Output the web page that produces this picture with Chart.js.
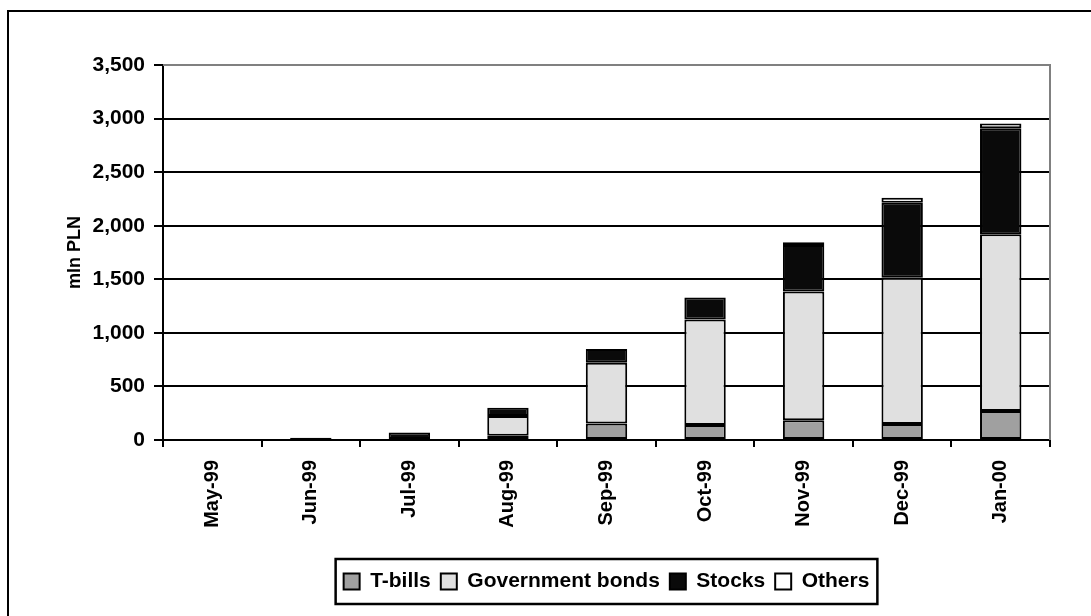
<!DOCTYPE html>
<html>
<head>
<meta charset="utf-8">
<script src="https://cdn.jsdelivr.net/npm/chart.js@4/dist/chart.umd.min.js"></script>
<style>
  html, body { margin: 0; padding: 0; background: #fff; overflow: hidden; }
  #frame { position: absolute; left: 7px; top: 10px; width: 1100px; height: 620px; border: 2px solid #000; box-sizing: border-box; }
  #wrap { position: absolute; left: 0; top: 0; width: 1091px; height: 616px; }
</style>
</head>
<body>
<div id="frame"></div>
<div id="wrap"><canvas id="chart" width="1091" height="616"></canvas></div>
<script>
// ============================
const months = ["May-99", "Jun-99", "Jul-99", "Aug-99", "Sep-99", "Oct-99", "Nov-99", "Dec-99", "Jan-00"];
const tbills = [0, 0, 5, 40, 155, 140, 185, 150, 270];
const bonds = [0, 3, 5, 185, 565, 985, 1200, 1365, 1650];
const stocks = [0, 17, 60, 75, 130, 205, 435, 700, 990];
const others = [0, 0, 0, 0, 0, 0, 25, 45, 45];
const yTicks = [0, 500, 1000, 1500, 2000, 2500, 3000, 3500];

const FONT = "Arial, 'Liberation Sans', sans-serif";

// ============================
// gray plot area frame (top / right), like the Excel plot area
const plotFrame = {
  id: "plotFrame",
  beforeDatasetsDraw(chart) {
    const { ctx, chartArea: a } = chart;
    ctx.save();
    ctx.strokeStyle = "#808080";
    ctx.lineWidth = 2;
    ctx.beginPath();
    ctx.moveTo(a.left, a.top);
    ctx.lineTo(a.right, a.top);
    ctx.lineTo(a.right, a.bottom);
    ctx.stroke();
    ctx.restore();
  }
};

// ============================
// box around the legend items
const legendBox = {
  id: "legendBox",
  afterDraw(chart) {
    const boxes = chart.legend.legendHitBoxes;
    if (!boxes || !boxes.length) return;
    const left = Math.min(...boxes.map(b => b.left)) - 8;
    const right = Math.max(...boxes.map(b => b.left + b.width)) + 8;
    const top = Math.min(...boxes.map(b => b.top)) - 12;
    const bottom = Math.max(...boxes.map(b => b.top + b.height)) + 12;
    const ctx = chart.ctx;
    ctx.save();
    ctx.strokeStyle = "#000";
    ctx.lineWidth = 2.5;
    ctx.strokeRect(left, top, right - left, bottom - top);
    ctx.restore();
  }
};

// ============================
function makeSet(label, values, color) {
  return {
    label: label,
    data: values,
    backgroundColor: color,
    borderColor: "#000",
    borderWidth: 2,
    borderSkipped: false,
    categoryPercentage: 1,
    barPercentage: 0.42
  };
}

new Chart(document.getElementById("chart"), {
  type: "bar",
  data: {
    labels: months,
    datasets: [
      makeSet("T-bills", tbills, "#a0a0a0"),
      makeSet("Government bonds", bonds, "#e0e0e0"),
      makeSet("Stocks", stocks, "#0a0a0a"),
      makeSet("Others", others, "#ffffff")
    ]
  },
  options: {
    responsive: false,
    animation: false,
    layout: { padding: { left: 0, right: 41, top: 65, bottom: 14 } },
    plugins: {
      tooltip: { enabled: false },
      legend: {
        position: "bottom",
        fullSize: false,
        labels: {
          color: "#000",
          font: { family: FONT, size: 21, weight: "bold" },
          boxWidth: 16,
          boxHeight: 16,
          padding: 10
        }
      }
    },
    scales: {
      x: {
        stacked: true,
        offset: true,
        afterFit: s => { s.height = 121; },
        grid: {
          offset: true,
          drawOnChartArea: false,
          drawTicks: true,
          tickLength: 7,
          color: "#000",
          lineWidth: 2
        },
        border: { color: "#000", width: 2 },
        ticks: {
          color: "#000",
          font: { family: FONT, size: 20, weight: "bold" },
          minRotation: 90,
          maxRotation: 90,
          padding: 13
        }
      },
      y: {
        stacked: true,
        min: 0,
        max: 3500,
        afterFit: s => { s.width = 163; },
        afterBuildTicks: s => { s.ticks = yTicks.map(v => ({ value: v })); },
        grid: {
          color: "#000",
          lineWidth: 2,
          drawTicks: true,
          tickLength: 9
        },
        border: { color: "#000", width: 2 },
        ticks: {
          color: "#000",
          font: { family: FONT, size: 21, weight: "bold" },
          padding: 9,
          callback: v => v.toLocaleString("en-US")
        },
        title: {
          display: true,
          text: "mln PLN",
          color: "#000",
          font: { family: FONT, size: 18, weight: "bold" },
          padding: { top: 64, bottom: 0 }
        }
      }
    }
  },
  plugins: [plotFrame, legendBox]
});
</script>
</body>
</html>
